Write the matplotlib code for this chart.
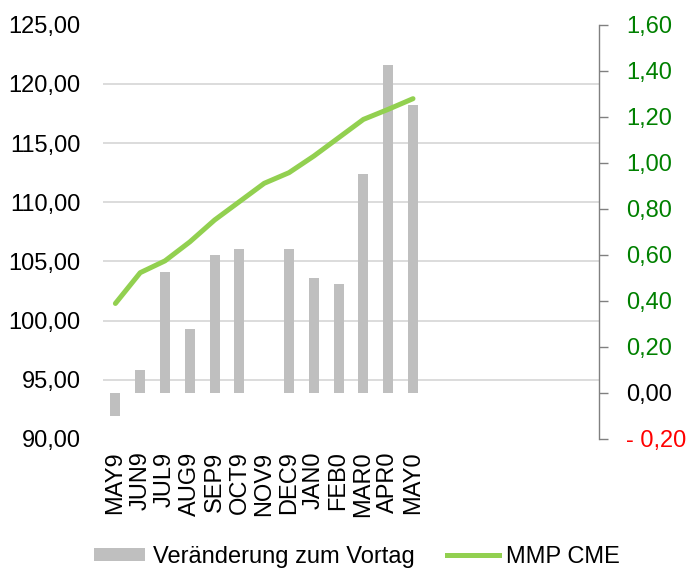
import matplotlib
matplotlib.use("Agg")
import matplotlib.pyplot as plt
import numpy as np
from matplotlib.ticker import FixedLocator
from matplotlib.patches import Patch
from matplotlib.lines import Line2D

plt.rcParams['font.family'] = ['Liberation Sans', 'DejaVu Sans']

categories = ["MAY9", "JUN9", "JUL9", "AUG9", "SEP9", "OCT9", "NOV9",
              "DEC9", "JAN0", "FEB0", "MAR0", "APR0", "MAY0"]
n_slots = 20
change = [-0.10, 0.10, 0.525, 0.28, 0.60, 0.625, np.nan,
          0.625, 0.50, 0.475, 0.95, 1.425, 1.25]
price = [101.45, 104.05, 105.05, 106.65, 108.5, 110.05, 111.6,
         112.5, 113.9, 115.45, 117.0, 117.85, 118.75]

left_ticks = [90, 95, 100, 105, 110, 115, 120, 125]
right_ticks = [-0.2, 0.0, 0.2, 0.4, 0.6, 0.8, 1.0, 1.2, 1.4, 1.6]
right_labels = ["- 0,20", "0,00", "0,20", "0,40", "0,60", "0,80",
                "1,00", "1,20", "1,40", "1,60"]

bar_color = "#BFBFBF"
line_color = "#92D050"
fs = 17

fig = plt.figure(figsize=(6.93, 5.68), dpi=100)
W, H = 693, 568
x0, x1, y0, y1 = 103, 599, 24.7, 439
axb = fig.add_axes([x0 / W, 1 - y1 / H, (x1 - x0) / W, (y1 - y0) / H])
axl = axb.twinx()

x = np.arange(len(categories))
axb.bar(x, change, width=0.4, color=bar_color, zorder=2)
axb.set_xlim(-0.5, n_slots - 0.5)
axb.set_ylim(right_ticks[0], right_ticks[-1])

# right axis (bars)
axb.yaxis.tick_right()
axb.yaxis.set_label_position('right')
axb.set_yticks(right_ticks)
axb.set_yticklabels(right_labels)
axb.tick_params(axis='y', which='major', direction='out', length=6.5, width=1.0,
                color='#808080', pad=13, labelsize=fs, left=False, labelleft=False,
                right=True, labelright=True)
for t, v in zip(axb.get_yticklabels(which='major'), right_ticks):
    t.set_color('#008000' if v > 0 else ('red' if v < 0 else 'black'))
    t.set_horizontalalignment('left')

# gridlines at left-axis tick positions
lo, hi = left_ticks[0], left_ticks[-1]
grid_pos = [right_ticks[0] + (v - lo) / (hi - lo) * (right_ticks[-1] - right_ticks[0])
            for v in left_ticks]
axb.yaxis.set_minor_locator(FixedLocator(grid_pos))
axb.tick_params(axis='y', which='minor', length=0, left=False, right=False,
                labelleft=False, labelright=False)
axb.grid(which='minor', axis='y', color='#D9D9D9', lw=1.3, zorder=0)
axb.set_axisbelow(True)

for s in ['top', 'left', 'bottom']:
    axb.spines[s].set_visible(False)
axb.spines['right'].set_color('#808080')
axb.spines['right'].set_linewidth(1.0)

axb.set_xticks(x)
axb.set_xticklabels(categories, rotation=90, fontsize=fs)
axb.tick_params(axis='x', length=0, pad=9)

# left axis (line)
axl.yaxis.tick_left()
axl.yaxis.set_label_position('left')
axl.plot(x, price, color=line_color, lw=3.6, solid_capstyle='round',
         solid_joinstyle='round', zorder=3)
axl.set_ylim(lo, hi)
axl.set_yticks(left_ticks)
axl.set_yticklabels([f"{v:.2f}".replace('.', ',') for v in left_ticks])
axl.tick_params(axis='y', length=0, pad=16, labelsize=fs, left=True, labelleft=True,
                right=False, labelright=False)
for s in axl.spines.values():
    s.set_visible(False)

handles = [Patch(facecolor=bar_color, edgecolor='none'),
           Line2D([0], [0], color=line_color, lw=3.6)]
fig.legend(handles, ["Veränderung zum Vortag", "MMP CME"], loc='center',
           bbox_to_anchor=(0.515, 1 - 557 / H), ncol=2, frameon=False,
           fontsize=fs, handlelength=2.2, handleheight=0.5, handletextpad=0.3,
           columnspacing=1.4, borderaxespad=0)

fig.savefig("out.png", dpi=100)
